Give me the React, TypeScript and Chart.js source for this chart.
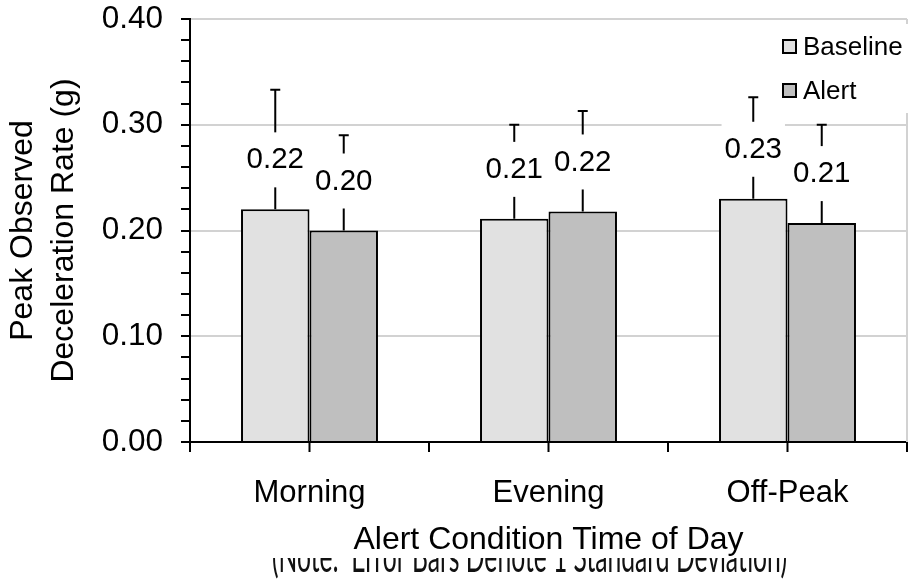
import React, { useEffect, useRef } from "react";
import { Chart, registerables } from "chart.js";

Chart.register(...registerables);

// ---- data ----
const categories = ["Morning", "Evening", "Off-Peak"];
const seriesNames = ["Baseline", "Alert"];
const baselineValues = [0.22, 0.211, 0.23];
const alertValues = [0.2, 0.218, 0.207];
const baselineSD = [0.113, 0.089, 0.096];
const alertSD = [0.09, 0.095, 0.093];
const yMajorTicks = [0, 0.1, 0.2, 0.3, 0.4];
const yMinorStep = 0.02;
const xAxisTitle = "Alert Condition Time of Day";
const yAxisTitle = ["Peak Observed", "Deceleration Rate (g)"];
const noteText = "(Note:  Error Bars Denote 1 Standard Deviation)";

// ---- styles ----
const FONT = "'Liberation Sans', Arial, sans-serif";
const NOTE_FONT = "Lato, 'Open Sans', sans-serif";
const COLORS = ["#e1e1e1", "#bfbfbf"];
const GRID = "#d2d2d2";

const isMajor = (v: number) =>
  yMajorTicks.some((m) => Math.abs(m - v) < 1e-6);

const extrasPlugin = {
  id: "extras",
  beforeDatasetsDraw(chart: any) {
    const { ctx, chartArea } = chart;
    ctx.save();
    ctx.strokeStyle = GRID;
    ctx.lineWidth = 2;
    ctx.beginPath();
    ctx.moveTo(chartArea.right, chartArea.top);
    ctx.lineTo(chartArea.right, chartArea.bottom);
    ctx.stroke();
    ctx.restore();
  },
  afterDatasetsDraw(chart: any) {
    const { ctx, chartArea } = chart;
    const yScale = chart.scales.y;
    const xScale = chart.scales.x;
    ctx.save();
    // center ticks on x axis
    ctx.strokeStyle = "#000";
    ctx.lineWidth = 2;
    categories.forEach((_, i) => {
      const x = xScale.getPixelForValue(i);
      ctx.beginPath();
      ctx.moveTo(x, chartArea.bottom);
      ctx.lineTo(x, chartArea.bottom + 10);
      ctx.stroke();
    });
    // error bars
    chart.data.datasets.forEach((ds: any, di: number) => {
      const meta = chart.getDatasetMeta(di);
      meta.data.forEach((bar: any, i: number) => {
        const top = yScale.getPixelForValue(ds.data[i] + ds.sd[i]);
        ctx.beginPath();
        ctx.moveTo(bar.x, bar.y);
        ctx.lineTo(bar.x, top);
        ctx.moveTo(bar.x - 5, top);
        ctx.lineTo(bar.x + 5, top);
        ctx.stroke();
      });
    });
    // value labels
    ctx.font = `29.5px ${FONT}`;
    ctx.textAlign = "center";
    ctx.textBaseline = "middle";
    chart.data.datasets.forEach((ds: any, di: number) => {
      const meta = chart.getDatasetMeta(di);
      meta.data.forEach((bar: any, i: number) => {
        const txt = Number(ds.data[i]).toFixed(2);
        const cy = bar.y - 50;
        const w = ctx.measureText(txt).width + 6;
        ctx.fillStyle = "#fff";
        ctx.fillRect(bar.x - w / 2, cy - 27, w, 55);
        ctx.fillStyle = "#000";
        ctx.fillText(txt, bar.x, cy + 1);
      });
    });
    ctx.restore();
  },
  afterDraw(chart: any) {
    const { ctx, chartArea } = chart;
    ctx.save();
    // legend
    const lx = chartArea.right - 124;
    ctx.fillStyle = "#fff";
    ctx.fillRect(lx - 8, chartArea.top + 5, 140, 89);
    ctx.font = `26px ${FONT}`;
    ctx.textBaseline = "middle";
    ctx.textAlign = "left";
    chart.data.datasets.forEach((ds: any, di: number) => {
      const cy = chartArea.top + 27.5 + di * 44;
      ctx.fillStyle = ds.backgroundColor;
      ctx.fillRect(lx, cy - 6.5, 13, 13);
      ctx.strokeStyle = "#000";
      ctx.lineWidth = 2;
      ctx.strokeRect(lx, cy - 6.5, 13, 13);
      ctx.fillStyle = "#000";
      ctx.fillText(ds.label, lx + 20, cy + 1);
    });
    // note (top partly hidden)
    ctx.beginPath();
    ctx.rect(0, 558, chart.width, chart.height - 558);
    ctx.clip();
    ctx.font = `44px ${NOTE_FONT}`;
    ctx.textBaseline = "alphabetic";
    ctx.textAlign = "left";
    const w = ctx.measureText(noteText).width;
    const sx = 515 / w;
    ctx.translate(272, 572);
    ctx.scale(sx, 1);
    ctx.fillStyle = "#111";
    ctx.fillText(noteText, 0, 0);
    ctx.restore();
  },
};

export default function App() {
  const ref = useRef<HTMLCanvasElement | null>(null);

  useEffect(() => {
    if (!ref.current) return;
    const chart = new Chart(ref.current, {
      type: "bar",
      data: {
        labels: categories,
        datasets: [
          {
            label: seriesNames[0],
            data: baselineValues,
            sd: baselineSD,
            backgroundColor: COLORS[0],
            borderColor: "#000",
            borderWidth: 2,
            categoryPercentage: 0.573,
            barPercentage: 1,
          } as any,
          {
            label: seriesNames[1],
            data: alertValues,
            sd: alertSD,
            backgroundColor: COLORS[1],
            borderColor: "#000",
            borderWidth: 2,
            categoryPercentage: 0.573,
            barPercentage: 1,
          } as any,
        ],
      },
      options: {
        responsive: false,
        animation: false,
        devicePixelRatio: 1,
        layout: { padding: { top: 19, right: 1, bottom: 0, left: 0 } },
        plugins: {
          legend: { display: false },
          tooltip: { enabled: false },
          title: { display: false },
        },
        scales: {
          x: {
            grid: {
              offset: true,
              drawOnChartArea: false,
              color: "#000",
              tickColor: "#000",
              lineWidth: 2,
              tickLength: 10,
            },
            border: { color: "#000", width: 2 },
            ticks: {
              color: "#000",
              font: { family: FONT, size: 31 },
              padding: 23,
              maxRotation: 0,
              autoSkip: false,
            },
            title: {
              display: true,
              text: xAxisTitle,
              color: "#000",
              font: { family: FONT, size: 32 },
              padding: { top: 0, bottom: 21 },
            },
            afterFit: (s: any) => {
              s.height = 138;
              s.paddingLeft = 0;
              s.paddingRight = 0;
            },
          },
          y: {
            min: yMajorTicks[0],
            max: yMajorTicks[yMajorTicks.length - 1],
            ticks: {
              stepSize: yMinorStep,
              autoSkip: false,
              callback: (v: any) => (isMajor(Number(v)) ? Number(v).toFixed(2) : ""),
              color: "#000",
              font: { family: FONT, size: 31.5 },
              padding: 18,
            },
            grid: {
              color: (c: any) =>
                c.tick && isMajor(c.tick.value) ? GRID : "rgba(0,0,0,0)",
              tickColor: "#000",
              lineWidth: 2,
              tickWidth: 2,
              tickLength: 9,
            },
            border: { color: "#000", width: 2 },
            title: {
              display: true,
              text: yAxisTitle,
              color: "#000",
              font: { family: FONT, size: 32, lineHeight: 1.28 },
              padding: { top: 3, bottom: 0 },
            },
            afterFit: (s: any) => {
              s.width = 190;
              s.paddingTop = 0;
              s.paddingBottom = 0;
            },
          },
        },
      } as any,
      plugins: [extrasPlugin],
    });
    return () => chart.destroy();
  }, []);

  return (
    <div style={{ position: "fixed", left: 0, top: 0, width: 908, height: 580, background: "#fff" }}>
      <canvas ref={ref} width={908} height={580} style={{ display: "block" }} />
    </div>
  );
}
